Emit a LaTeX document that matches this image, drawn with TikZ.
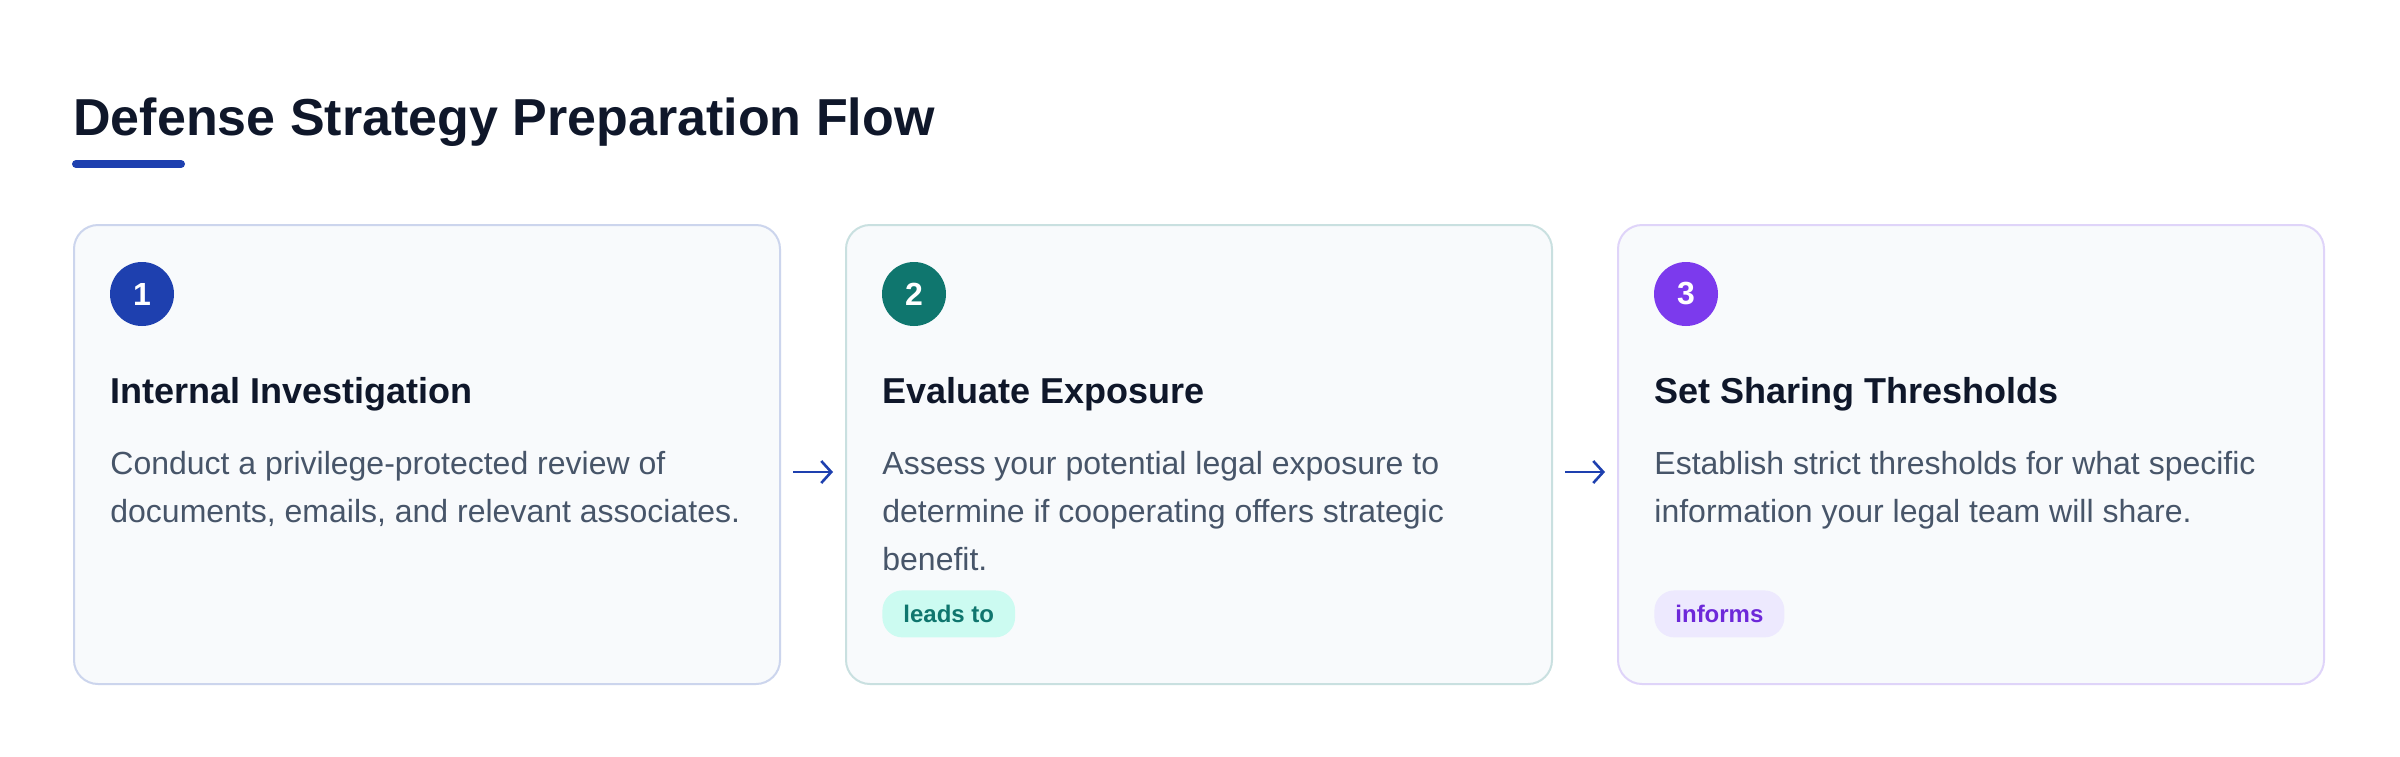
\documentclass[tikz,border=0pt]{standalone}
\usepackage{fontspec}
\setmainfont{Liberation Sans}
\usetikzlibrary{arrows.meta}

\definecolor{ink}{HTML}{0F172A}
\definecolor{muted}{HTML}{475569}
\definecolor{cardbg}{HTML}{F8FAFC}
\definecolor{stepblue}{HTML}{1E40AF}
\definecolor{stepteal}{HTML}{0F766E}
\definecolor{stepviolet}{HTML}{7C3AED}
\definecolor{tealtag}{HTML}{CCFBF1}
\definecolor{violettag}{HTML}{EDE9FE}
\definecolor{violettext}{HTML}{6D28D9}

\tikzstyle{card}=[draw,line width=1pt,rounded corners=12pt,fill=cardbg,minimum width=353pt,minimum height=229.5pt,inner sep=0pt,anchor=north west]
\tikzstyle{stepnum}=[circle,minimum size=32pt,inner sep=0pt,text=white,font=\fontsize{16}{16}\selectfont\bfseries]
\tikzstyle{heading}=[anchor=base west,inner sep=0pt,text=ink,font=\fontsize{18}{22}\selectfont\bfseries]
\tikzstyle{body}=[anchor=base west,inner sep=0pt,text=muted,font=\fontsize{16}{24}\selectfont]
\tikzstyle{tag}=[anchor=north west,rounded corners=10pt,minimum height=23.5pt,inner xsep=10.5pt,inner ysep=0pt,font=\fontsize{12}{12}\selectfont\bfseries]
\tikzstyle{link}=[draw,stepblue,line width=1.3pt,-{Straight Barb[length=5pt,width=11pt]},shorten >=6pt,shorten <=6pt]
\newcommand{\pxscale}{0.5pt}

\begin{document}
\begin{tikzpicture}[x=\pxscale, y=-\pxscale]
    \fill[white] (0,0) rectangle (2400,756);
    \useasboundingbox (0,0) rectangle (2400,756);

    % Title with its underline
    \node[anchor=base west,inner sep=0pt,text=ink,font=\fontsize{26}{30}\selectfont\bfseries] (title) at (73,135) {Defense Strategy Preparation Flow};
    \draw[stepblue,line width=4pt,line cap=round] (76,164) -- (181,164);

    % First we draw the cards with number, heading and text
    \foreach \i/\x/\col/\head/\desc in {1/73/stepblue/{Internal Investigation}/{Conduct a privilege-protected review of\\documents, emails, and relevant associates.}, 2/845/stepteal/{Evaluate Exposure}/{Assess your potential legal exposure to\\determine if cooperating offers strategic\\benefit.}, 3/1617/stepviolet/{Set Sharing Thresholds}/{Establish strict thresholds for what specific\\information your legal team will share.}}
    {
        \node[card,draw=\col!20!cardbg] (card\i) at (\x,224) {};
        \node[stepnum,fill=\col] (num\i) at ([xshift=34.5pt,yshift=-35pt]card\i.north west) {\i};
        \node[heading] (head\i) at ([xshift=18.5pt,yshift=-89.5pt]card\i.north west) {\head};
        \node[body] (body\i) at ([xshift=18.5pt,yshift=-125pt]card\i.north west) {\parbox[t]{330pt}{\raggedright\desc}};
    }

    % Tags under the text
    \node[tag,fill=tealtag,text=stepteal] (tag2) at ([xshift=18.5pt,yshift=-183pt]card2.north west) {leads to};
    \node[tag,fill=violettag,text=violettext] (tag3) at ([xshift=18.5pt,yshift=-183pt]card3.north west) {informs};

    % Connect cards with arrows
    \foreach \source/\dest in {card1/card2, card2/card3}
        \path[link] ([yshift=-8.75pt]\source.east) -- ([yshift=-8.75pt]\dest.west);
\end{tikzpicture}
\end{document}
